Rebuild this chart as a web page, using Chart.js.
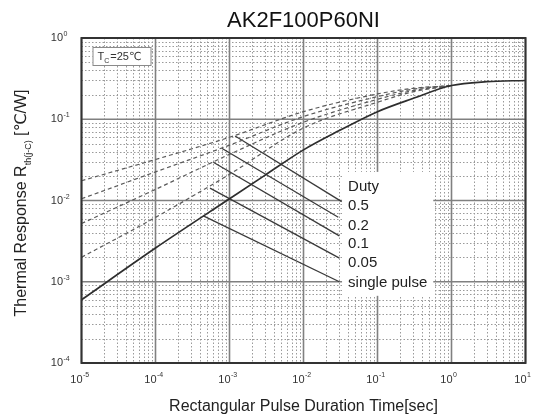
<!DOCTYPE html>
<html>
<head>
<meta charset="utf-8">
<script src="https://cdn.jsdelivr.net/npm/chart.js@4.4.0/dist/chart.umd.min.js"></script>
<style>
html, body { margin: 0; padding: 0; background: #fff; }
#wrap { width: 544px; height: 419px; }
</style>
</head>
<body>
<div id="wrap"><canvas id="zthChart"></canvas></div>
<script>
// pulse duration [sec] and thermal response [C/W]
var singleT = [1e-5, 1e-4, 1e-3, 3e-3, 1e-2, 3e-2, 0.1, 0.3, 1, 3, 10];
var singlePulse = [6.0e-4, 2.6e-3, 0.0105, 0.0204, 0.042, 0.072, 0.124, 0.18, 0.26, 0.29, 0.30];

var dutyT = [1e-5, 1e-4, 1e-3, 1e-2, 0.1, 0.3, 1];
var duty05 = [0.0175, 0.032, 0.060, 0.124, 0.205, 0.240, 0.26];
var duty02 = [0.0105, 0.0225, 0.048, 0.108, 0.190, 0.234, 0.26];
var duty01 = [0.0052, 0.0137, 0.037, 0.092, 0.176, 0.225, 0.26];
var duty005 = [0.0020, 0.0062, 0.021, 0.078, 0.162, 0.217, 0.26];

// leader lines from curves to the duty labels: [time, Zth]
var leaderFrom = [[1.19e-3, 0.0623], [7.85e-4, 0.044], [6.04e-4, 0.0296], [5.45e-4, 0.0142], [4.43e-4, 0.00647]];
var leaderTo = [[0.0328, 0.0097], [0.0295, 0.00623], [0.0305, 0.00367], [0.0306, 0.00195], [0.0305, 0.0010]];

var legendText = ["Duty", "0.5", "0.2", "0.1", "0.05", "single pulse"];
var legendX = 0.04;
var legendY = [0.0147, 0.0086, 0.00488, 0.00293, 0.0017, 0.00097];

var xDecades = [-5, -4, -3, -2, -1, 0, 1];
var yDecades = [-4, -3, -2, -1, 0];

var FONT = "'Liberation Sans', Arial, 'DejaVu Sans', sans-serif";

function pts(xs, ys) {
    return xs.map(function (x, i) { return { x: x, y: ys[i] }; });
}

function curve(label, xs, ys, dashed) {
    return {
        label: label,
        data: pts(xs, ys),
        borderColor: dashed ? "#5a5a5a" : "#2e2e2e",
        borderWidth: dashed ? 1.2 : 1.7,
        borderDash: dashed ? [4, 3] : [],
        pointRadius: 0,
        fill: false,
        cubicInterpolationMode: "monotone"
    };
}

var datasets = [
    curve("single pulse", singleT, singlePulse, false),
    curve("0.5", dutyT, duty05, true),
    curve("0.2", dutyT, duty02, true),
    curve("0.1", dutyT, duty01, true),
    curve("0.05", dutyT, duty005, true)
];
leaderFrom.forEach(function (p, i) {
    datasets.push({
        label: "leader" + i,
        data: [{ x: p[0], y: p[1] }, { x: leaderTo[i][0], y: leaderTo[i][1] }],
        borderColor: "#3a3a3a",
        borderWidth: 1.3,
        pointRadius: 0,
        fill: false
    });
});

var paper = {
    id: "paper",
    beforeDatasetsDraw: function (chart) {
        var ctx = chart.ctx, a = chart.chartArea;
        var xs = chart.scales.x, ys = chart.scales.y;
        ctx.save();
        // minor dotted grid
        ctx.strokeStyle = "#9a9a9a";
        ctx.lineWidth = 1;
        ctx.setLineDash([1.5, 2]);
        xDecades.slice(0, -1).forEach(function (e) {
            for (var m = 2; m <= 9; m++) {
                var px = Math.round(xs.getPixelForValue(m * Math.pow(10, e))) + 0.5;
                ctx.beginPath(); ctx.moveTo(px, a.top); ctx.lineTo(px, a.bottom); ctx.stroke();
            }
        });
        yDecades.slice(0, -1).forEach(function (e) {
            for (var m = 2; m <= 9; m++) {
                var py = Math.round(ys.getPixelForValue(m * Math.pow(10, e))) + 0.5;
                ctx.beginPath(); ctx.moveTo(a.left, py); ctx.lineTo(a.right, py); ctx.stroke();
            }
        });
        // major decade grid
        ctx.setLineDash([]);
        ctx.strokeStyle = "#808080";
        ctx.lineWidth = 1.6;
        xDecades.forEach(function (e) {
            var px = xs.getPixelForValue(Math.pow(10, e));
            ctx.beginPath(); ctx.moveTo(px, a.top); ctx.lineTo(px, a.bottom); ctx.stroke();
        });
        yDecades.forEach(function (e) {
            var py = ys.getPixelForValue(Math.pow(10, e));
            ctx.beginPath(); ctx.moveTo(a.left, py); ctx.lineTo(a.right, py); ctx.stroke();
        });
        // white patch behind the duty labels
        ctx.font = "15px " + FONT;
        var w = 0;
        legendText.forEach(function (t) { w = Math.max(w, ctx.measureText(t).width); });
        var lx = xs.getPixelForValue(legendX) - 6;
        var top = ys.getPixelForValue(legendY[0]) - 15;
        var bot = ys.getPixelForValue(legendY[legendY.length - 1]) + 13;
        ctx.fillStyle = "#fff";
        ctx.fillRect(lx, top, w + 12, bot - top);
        // Tc box
        var bx = a.left + 11, by = a.top + 9;
        ctx.fillStyle = "#fff";
        ctx.fillRect(bx, by, 58, 18);
        ctx.strokeStyle = "#8a8a8a";
        ctx.lineWidth = 1;
        ctx.strokeRect(bx + 0.5, by + 0.5, 58, 18);
        ctx.fillStyle = "#333";
        ctx.textBaseline = "alphabetic";
        ctx.textAlign = "left";
        ctx.font = "11px " + FONT;
        ctx.fillText("T", bx + 5, by + 13);
        var tw = ctx.measureText("T").width;
        ctx.font = "7px " + FONT;
        ctx.fillText("C", bx + 5 + tw, by + 16);
        var cw = ctx.measureText("C").width;
        ctx.font = "11px " + FONT;
        ctx.fillText("=25\u2103", bx + 6 + tw + cw, by + 13);
        ctx.restore();
    },
    afterDatasetsDraw: function (chart) {
        var ctx = chart.ctx, a = chart.chartArea;
        var xs = chart.scales.x, ys = chart.scales.y;
        ctx.save();
        // plot frame
        ctx.strokeStyle = "#333";
        ctx.lineWidth = 2;
        ctx.strokeRect(a.left, a.top, a.right - a.left, a.bottom - a.top);

        // duty labels
        ctx.fillStyle = "#222";
        ctx.font = "15px " + FONT;
        ctx.textAlign = "left";
        ctx.textBaseline = "middle";
        var lx = xs.getPixelForValue(legendX);
        legendText.forEach(function (t, i) {
            ctx.fillText(t, lx, ys.getPixelForValue(legendY[i]));
        });

        // tick labels 10^n
        ctx.fillStyle = "#333";
        ctx.textBaseline = "alphabetic";
        xDecades.forEach(function (e) {
            var px = xs.getPixelForValue(Math.pow(10, e));
            ctx.font = "11px " + FONT;
            ctx.textAlign = "right";
            ctx.fillText("10", px + 1, a.bottom + 20);
            ctx.font = "7px " + FONT;
            ctx.textAlign = "left";
            ctx.fillText(String(e), px + 1.5, a.bottom + 14);
        });
        yDecades.forEach(function (e) {
            var py = ys.getPixelForValue(Math.pow(10, e));
            ctx.font = "11px " + FONT;
            ctx.textAlign = "right";
            ctx.fillText("10", 63, py + 3);
            ctx.font = "7px " + FONT;
            ctx.textAlign = "left";
            ctx.fillText(String(e), 63.5, py - 2);
        });

        // x axis title
        ctx.fillStyle = "#222";
        ctx.font = "16px " + FONT;
        ctx.textAlign = "center";
        ctx.fillText("Rectangular Pulse Duration Time[sec]", (a.left + a.right) / 2, 411);

        // y axis title with subscript
        ctx.save();
        ctx.translate(21, 203);
        ctx.rotate(-Math.PI / 2);
        ctx.textAlign = "left";
        var p1 = "Thermal Response R", p2 = "th(j-C)", p3 = " [\u2103/W]";
        ctx.font = "16px " + FONT;
        var w1 = ctx.measureText(p1).width, w3 = ctx.measureText(p3).width;
        ctx.font = "9px " + FONT;
        var w2 = ctx.measureText(p2).width;
        var sx = -(w1 + w2 + w3) / 2;
        ctx.font = "16px " + FONT;
        ctx.fillText(p1, sx, 5);
        ctx.font = "9px " + FONT;
        ctx.fillText(p2, sx + w1, 10);
        ctx.font = "16px " + FONT;
        ctx.fillText(p3, sx + w1 + w2, 5);
        ctx.restore();

        // title
        ctx.fillStyle = "#111";
        ctx.font = "22px " + FONT;
        ctx.textAlign = "center";
        ctx.fillText("AK2F100P60NI", (a.left + a.right) / 2, 27);
        ctx.restore();
    }
};

document.addEventListener("DOMContentLoaded", function () {
    var ctx = document.getElementById("zthChart").getContext("2d");
    new Chart(ctx, {
        type: "line",
        data: { datasets: datasets },
        options: {
            responsive: true,
            maintainAspectRatio: false,
            animation: false,
            layout: { padding: { top: 38, right: 18.5, left: 0, bottom: 0 } },
            plugins: { legend: { display: false }, tooltip: { enabled: false } },
            scales: {
                x: {
                    type: "logarithmic", min: 1e-5, max: 10,
                    grid: { display: false }, ticks: { display: false }, border: { display: false },
                    afterFit: function (s) { s.height = 56; }
                },
                y: {
                    type: "logarithmic", min: 1e-4, max: 1,
                    grid: { display: false }, ticks: { display: false }, border: { display: false },
                    afterFit: function (s) { s.width = 81.5; }
                }
            }
        },
        plugins: [paper]
    });
});
</script>
</body>
</html>
